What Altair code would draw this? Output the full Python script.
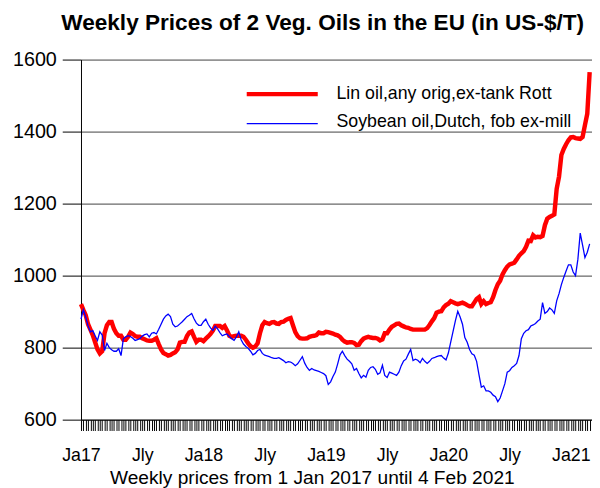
import altair as alt
import pandas as pd

series_names = ["Lin oil,any orig,ex-tank Rott", "Soybean oil,Dutch, fob ex-mill"]

lin_oil = [
    921, 905, 890, 865, 850, 835, 815, 795, 784, 790,
    840, 862, 871, 871, 852, 840, 833, 833, 822, 822,
    830, 842, 838, 832, 830, 830, 826, 823, 820, 819,
    819, 822, 826, 810, 795, 785, 782, 778, 780, 784,
    787, 795, 814, 816, 816, 832, 842, 845, 830, 816,
    822, 822, 818, 825, 831, 838, 847, 860, 860, 860,
    855, 860, 848, 833, 830, 832, 833, 833, 833, 830,
    822, 812, 804, 800, 803, 812, 840, 862, 871, 868,
    866, 870, 871, 867, 866, 871, 872, 877, 880, 882,
    862, 843, 832, 826, 825, 825, 826, 830, 832, 833,
    835, 842, 840, 840, 844, 843, 841, 839, 836, 834,
    830, 822, 817, 814, 815, 815, 813, 807, 808, 818,
    825, 828, 830, 828, 827, 827, 825, 820, 823, 840,
    840, 850, 858, 862, 866, 867, 862, 859, 856, 855,
    852, 850, 850, 850, 850, 850, 850, 854, 863, 873,
    882, 897, 900, 901, 912, 918, 922, 929, 926, 923,
    921, 923, 925, 922, 918, 915, 915, 925, 935, 940,
    921, 929, 921, 924, 926, 940, 960, 976, 986, 1003,
    1015, 1025, 1031, 1033, 1036, 1045, 1055, 1062, 1068, 1080,
    1097, 1096, 1112, 1106, 1108, 1107, 1110, 1140, 1158, 1163,
    1166, 1170, 1241, 1275, 1335, 1352, 1365, 1376, 1384, 1385,
    1382, 1381, 1380, 1385, 1418, 1450, 1565,
]

soy_oil = [
    879, 905, 885, 860, 844, 847, 833, 820, 844, 835,
    792, 812, 800, 794, 790, 790, 797, 778, 825, 830,
    833, 831, 826, 820, 822, 825, 832, 836, 838, 830,
    840, 842, 838, 851, 865, 879, 888, 893, 886, 865,
    858, 860, 866, 872, 879, 886, 890, 895, 880, 868,
    862, 862, 872, 879, 865, 855, 848, 860, 852, 842,
    833, 836, 838, 831, 825, 820, 830, 844, 822, 810,
    803, 798, 790, 780, 784, 792, 795, 784, 779, 777,
    775, 772, 770, 770, 772, 768, 764, 758, 761, 760,
    756, 750, 755, 765, 775, 757, 745, 737, 742, 738,
    736, 734, 731, 728, 722, 698, 705, 720, 732, 755,
    780, 790, 778, 768, 762, 755, 737, 742, 728, 716,
    723, 718, 737, 745, 747, 740, 726, 730, 751, 723,
    717, 732, 729, 726, 723, 732, 750, 763, 768, 782,
    795, 764, 768, 765, 758, 770, 762, 756, 762, 770,
    772, 775, 777, 778, 771, 766, 785, 815, 845, 875,
    901, 885, 865, 828, 815, 795, 783, 779, 762, 725,
    690, 694, 680, 680, 676, 668, 664, 650, 660, 680,
    700, 732, 736, 745, 750, 756, 778, 825, 840, 847,
    850, 860, 863, 867, 874, 879, 925, 895, 900, 910,
    905, 895, 930, 950, 975, 995, 1013, 1030, 1030, 1010,
    1000, 1045, 1118, 1085, 1050, 1065, 1088,
]

tick_label_weeks = [0, 26, 52, 78, 104, 130, 156, 182, 208]
tick_labels = ["Ja17", "Jly", "Ja18", "Jly", "Ja19", "Jly", "Ja20", "Jly", "Ja21"]
y_ticks = [600, 800, 1000, 1200, 1400, 1600]

n = len(lin_oil)
weeks = list(range(n))
df = pd.DataFrame({
    "week": weeks + weeks,
    "price": lin_oil + soy_oil,
    "series": [series_names[0]] * n + [series_names[1]] * n,
})

FONT = "Liberation Sans"
idx_str = ",".join(str(v) for v in tick_label_weeks)
lab_str = ",".join("'" + s + "'" for s in tick_labels)
label_expr = (
    f"indexof([{idx_str}], datum.value) >= 0 ? "
    f"[{lab_str}][indexof([{idx_str}], datum.value)] : ''"
)

x_enc = alt.X(
    "week:Q",
    scale=alt.Scale(domain=[0, 217], nice=False, zero=False),
    axis=alt.Axis(
        values=weeks,
        labelExpr=label_expr,
        labelOverlap=False,
        labelFlush=False,
        labelFontSize=18,
        labelBaseline="alphabetic",
        labelPadding=30,
        tickSize=11,
        tickWidth=1,
        grid=False,
        title="Weekly prices from 1 Jan 2017 until 4 Feb 2021",
        titleFontSize=19.4,
        titleFontWeight="normal",
        titleX=234,
        titleY=65,
        titleAlign="center",
        titleBaseline="alphabetic",
    ),
)
y_enc = alt.Y(
    "price:Q",
    scale=alt.Scale(domain=[600, 1600], nice=False, zero=False),
    axis=alt.Axis(
        values=y_ticks,
        format="d",
        labelFontSize=20,
        labelPadding=6,
        tickSize=19,
        grid=True,
        gridColor="#404040",
        gridWidth=1,
        title=None,
    ),
)

lines = alt.Chart(df).mark_line(interpolate="linear").encode(
    x=x_enc,
    y=y_enc,
    color=alt.Color("series:N", scale=alt.Scale(domain=series_names, range=["#ff0000", "#0000ff"]), legend=None),
    strokeWidth=alt.StrokeWidth("series:N", scale=alt.Scale(domain=series_names, range=[4.5, 1.3]), legend=None),
    detail="series:N",
)

leg0 = pd.DataFrame({"label": [series_names[0]]})
leg1 = pd.DataFrame({"label": [series_names[1]]})

leg_rule0 = alt.Chart(leg0).mark_rule(color="#ff0000", strokeWidth=4.5).encode(
    x=alt.value(168), x2=alt.value(240), y=alt.value(35)
)
leg_text0 = alt.Chart(leg0).mark_text(align="left", baseline="middle", fontSize=18, font=FONT, color="black").encode(
    x=alt.value(259), y=alt.value(35), text="label:N"
)
leg_rule1 = alt.Chart(leg1).mark_rule(color="#0000ff", strokeWidth=1.3).encode(
    x=alt.value(168), x2=alt.value(240), y=alt.value(65)
)
leg_text1 = alt.Chart(leg1).mark_text(align="left", baseline="middle", fontSize=18, font=FONT, color="black").encode(
    x=alt.value(259), y=alt.value(63), text="label:N"
)

chart = alt.layer(lines, leg_rule0, leg_text0, leg_rule1, leg_text1).properties(
    width=518,
    height=365,
    autosize=alt.AutoSizeParams(type="none"),
    padding={"left": 74, "top": 49, "right": 0, "bottom": 66},
    background="white",
    title=alt.TitleParams(
        "Weekly Prices of 2 Veg. Oils in the EU (in US-$/T)",
        fontSize=22.9,
        fontWeight="bold",
        font=FONT,
        color="black",
        anchor="middle",
        frame="group",
        dx=-14,
        offset=-3,
        baseline="alphabetic",
    ),
).configure_axis(
    labelFont=FONT,
    titleFont=FONT,
    labelColor="black",
    titleColor="black",
    domainColor="black",
    tickColor="black",
).configure_view(strokeWidth=0)

chart.save("out.html", embed_options={"renderer": "svg", "actions": False})
